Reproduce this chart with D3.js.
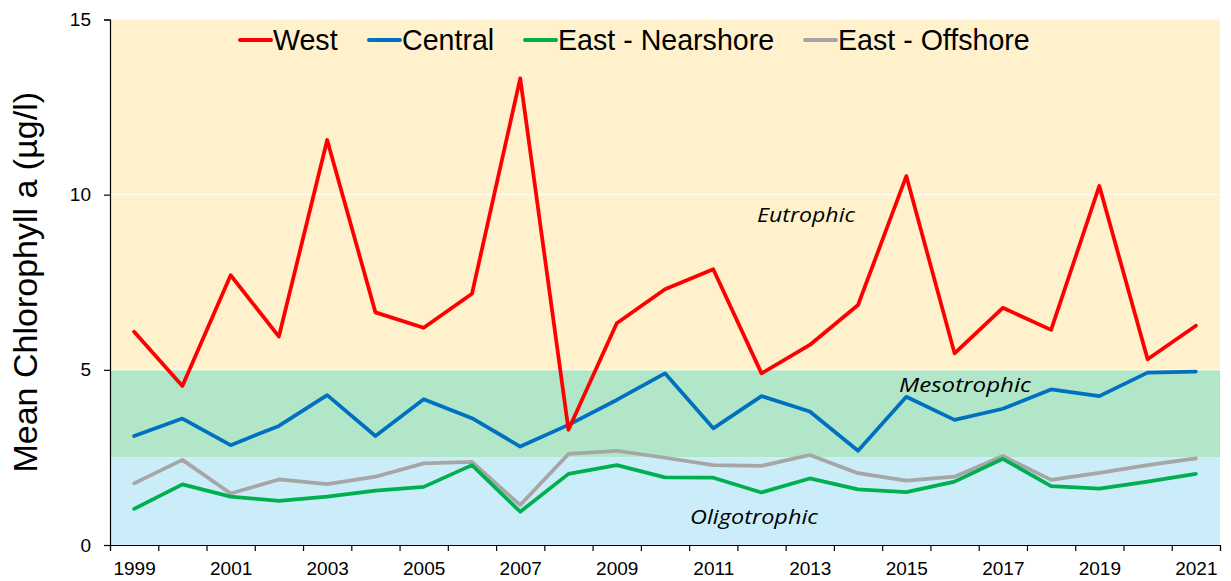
<!DOCTYPE html>
<html>
<head>
<meta charset="utf-8">
<script src="https://cdn.jsdelivr.net/npm/d3@7"></script>
<style>
  html, body { margin: 0; padding: 0; background: #fff; }
  svg { display: block; }
</style>
</head>
<body>
<svg id="chart" width="1231" height="581"></svg>
<script>
const years = d3.range(1999, 2022);
const labelYears = [1999, 2001, 2003, 2005, 2007, 2009, 2011, 2013, 2015, 2017, 2019, 2021];
const yTicks = [0, 5, 10, 15];
const seriesNames = ["West", "Central", "East - Nearshore", "East - Offshore"];
const west      = [6.09, 4.54, 7.70, 5.95, 11.56, 6.64, 6.20, 7.17, 13.32, 3.29, 6.33, 7.30, 7.87, 4.90, 5.71, 6.85, 10.53, 5.47, 6.77, 6.14, 10.25, 5.30, 6.26];
const central   = [3.11, 3.61, 2.85, 3.40, 4.28, 3.11, 4.16, 3.62, 2.81, 3.43, 4.14, 4.90, 3.33, 4.25, 3.81, 2.69, 4.23, 3.57, 3.89, 4.44, 4.25, 4.92, 4.95];
const nearshore = [1.03, 1.73, 1.38, 1.26, 1.38, 1.55, 1.66, 2.28, 0.95, 2.03, 2.28, 1.93, 1.92, 1.50, 1.90, 1.59, 1.51, 1.81, 2.46, 1.68, 1.61, 1.81, 2.03];
const offshore  = [1.76, 2.43, 1.47, 1.87, 1.74, 1.95, 2.33, 2.37, 1.14, 2.60, 2.69, 2.49, 2.28, 2.26, 2.57, 2.05, 1.84, 1.95, 2.54, 1.86, 2.06, 2.28, 2.47];
const zoneNames = ["Eutrophic", "Mesotrophic", "Oligotrophic"];
const zoneLow  = [5, 2.5, 0];
const zoneHigh = [15, 5, 2.5];
const gridValues = [5, 10];

(function () {
const seriesValues = [west, central, nearshore, offshore];
const seriesColors = ["#FF0000", "#0070C0", "#00B050", "#A6A6A6"];
const zoneColors = ["#FFF1CC", "#B2E6C8", "#CBEDF9"];

const svg = d3.select("#chart");
const pLeft = 110, pRight = 1220, pTop = 19.5, pBottom = 545;

const x = d3.scaleLinear().domain([1998.5, 2021.5]).range([pLeft, pRight]);
const y = d3.scaleLinear().domain([0, 15]).range([pBottom, pTop]);

const font = "'Liberation Sans', Arial, sans-serif";

// zone backgrounds
svg.append("g").selectAll("rect").data(zoneNames).join("rect")
  .attr("x", pLeft).attr("width", pRight - pLeft)
  .attr("y", (d, i) => y(zoneHigh[i]))
  .attr("height", (d, i) => y(zoneLow[i]) - y(zoneHigh[i]))
  .attr("fill", (d, i) => zoneColors[i]);

// gridlines
svg.append("g").selectAll("line").data(gridValues).join("line")
  .attr("x1", pLeft).attr("x2", pRight)
  .attr("y1", d => y(d)).attr("y2", d => y(d))
  .attr("stroke", "#ffffff").attr("stroke-width", 1);

// zone labels
const zoneLabelPos = [[806, 222, 98], [965, 391.5, 132], [754, 524, 128]];
svg.append("g").selectAll("text").data(zoneNames).join("text")
  .attr("x", (d, i) => zoneLabelPos[i][0])
  .attr("y", (d, i) => zoneLabelPos[i][1])
  .attr("text-anchor", "middle")
  .attr("font-family", "'Open Sans', 'Noto Sans', sans-serif")
  .attr("font-style", "italic")
  .attr("font-size", 20)
  .attr("textLength", (d, i) => zoneLabelPos[i][2])
  .attr("lengthAdjust", "spacingAndGlyphs")
  .attr("fill", "#000")
  .text(d => d);

// lines
const line = d3.line().x((d, i) => x(years[i])).y(d => y(d));
const order = [3, 2, 1, 0];
svg.append("g").selectAll("path").data(order).join("path")
  .attr("d", k => line(seriesValues[k]))
  .attr("fill", "none")
  .attr("stroke", k => seriesColors[k])
  .attr("stroke-width", 3.75)
  .attr("stroke-linejoin", "round")
  .attr("stroke-linecap", "round");

// x axis: ticks at boundaries
const xTickAxis = d3.axisBottom(x)
  .tickValues(d3.range(years.length + 1).map(i => 1998.5 + i))
  .tickSize(6).tickFormat("");
const gx = svg.append("g").attr("transform", `translate(0,${pBottom})`).call(xTickAxis);
gx.select(".domain").attr("stroke", "#000").attr("stroke-width", 1.2);
gx.selectAll(".tick line").attr("stroke", "#000").attr("stroke-width", 1.2);

const xLabelAxis = d3.axisBottom(x).tickValues(labelYears).tickSize(0).tickPadding(16.5).tickFormat(d3.format("d"));
const gxl = svg.append("g").attr("transform", `translate(0,${pBottom})`).call(xLabelAxis);
gxl.select(".domain").remove();
gxl.selectAll("text").attr("font-family", font).attr("font-size", 19).attr("fill", "#000");

// y axis
const yAxis = d3.axisLeft(y).tickValues(yTicks).tickSize(6).tickPadding(13);
const gy = svg.append("g").attr("transform", `translate(${pLeft},0)`).call(yAxis);
gy.select(".domain").attr("stroke", "#000").attr("stroke-width", 1.2);
gy.selectAll(".tick line").attr("stroke", "#000").attr("stroke-width", 1.2);
gy.selectAll("text").attr("font-family", font).attr("font-size", 19).attr("fill", "#000");

// y title
svg.append("text")
  .attr("transform", `translate(37,${(pTop + pBottom) / 2}) rotate(-90)`)
  .attr("text-anchor", "middle")
  .attr("font-family", font)
  .attr("font-size", 34)
  .attr("fill", "#000")
  .text("Mean Chlorophyll a (µg/l)");

// legend
const legendX = [240, 369, 525, 805];
const lg = svg.append("g").selectAll("g").data(seriesNames).join("g")
  .attr("transform", (d, i) => `translate(${legendX[i]},40)`);
lg.append("line").attr("x1", 0).attr("x2", 31).attr("y1", 0).attr("y2", 0)
  .attr("stroke", (d, i) => seriesColors[i]).attr("stroke-width", 4).attr("stroke-linecap", "round");
lg.append("text").attr("x", 33).attr("y", 9.8)
  .attr("font-family", font).attr("font-size", 28.6).attr("fill", "#000")
  .text(d => d);
})();
</script>
</body>
</html>
